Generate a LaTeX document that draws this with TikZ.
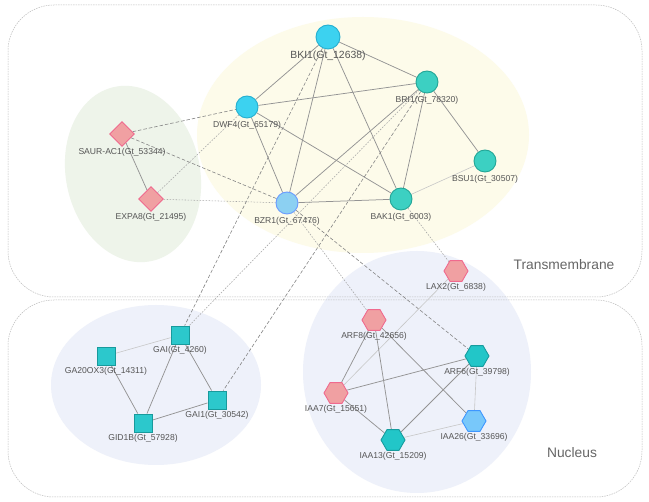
\documentclass[tikz,border=0pt]{standalone}
\usepackage{fontspec}
\setmainfont{Liberation Sans}
\usetikzlibrary{shapes.geometric}
\definecolor{cyanF}{HTML}{3CD2F0}
\definecolor{cyanD}{HTML}{25AFD0}
\definecolor{tealF}{HTML}{3CD0C2}
\definecolor{tealD}{HTML}{22A596}
\definecolor{bzrF}{HTML}{8CD0F2}
\definecolor{bzrD}{HTML}{6A9BFF}
\definecolor{pinkF}{HTML}{F0A0A2}
\definecolor{pinkD}{HTML}{F06A8E}
\definecolor{hexT}{HTML}{22C6C8}
\definecolor{hexTD}{HTML}{179C9E}
\definecolor{iaaF}{HTML}{78C8FA}
\definecolor{iaaD}{HTML}{3F97FF}
\definecolor{sqF}{HTML}{2CC8CC}
\definecolor{sqD}{HTML}{189A9C}
\definecolor{yellowBG}{HTML}{FDFBEA}
\definecolor{greenBG}{HTML}{EEF4EA}
\definecolor{lavBG}{HTML}{EEF1FA}
\definecolor{lblC}{HTML}{555555}
\definecolor{boxC}{HTML}{BDBDBD}
\pgfdeclarelayer{back}
\pgfdeclarelayer{edges}
\pgfsetlayers{back,edges,main}
\tikzset{
  lbl/.style={font=\fontsize{8.6}{9.5}\selectfont, text=lblC, inner sep=0.5pt},
  circ/.style={circle, minimum size=22pt, inner sep=0pt, line width=0.9pt, label={[lbl,label distance=2pt]below:#1}},
  cyannode/.style={circ=#1, fill=cyanF, draw=cyanD},
  tealnode/.style={circ=#1, fill=tealF, draw=tealD},
  dia/.style={diamond, minimum size=25pt, inner sep=0pt, fill=pinkF, draw=pinkD, line width=0.9pt, label={[lbl,label distance=0.5pt]below:#1}},
  hexa/.style={regular polygon, regular polygon sides=6, minimum size=24pt, inner sep=0pt, line width=0.9pt, label={[lbl,label distance=0.5pt]below:#1}},
  hexpink/.style={hexa=#1, fill=pinkF, draw=pinkD},
  hexteal/.style={hexa=#1, fill=hexT, draw=hexTD},
  hexblue/.style={hexa=#1, fill=iaaF, draw=iaaD},
  sq/.style={rectangle, minimum size=18pt, inner sep=0pt, fill=sqF, draw=sqD, line width=0.9pt, label={[lbl,label distance=1.5pt]below:#1}},
  solidE/.style={draw=black!42, line width=0.75pt},
  lightE/.style={draw=black!22, line width=0.6pt},
  dashE/.style={draw=black!48, line width=0.6pt, dash pattern=on 3.5pt off 2pt},
  dotE/.style={draw=black!35, line width=0.55pt, dash pattern=on 1.6pt off 1.4pt},
  regionbox/.style={draw=boxC, line width=0.5pt, dash pattern=on 1.5pt off 1pt, rounded corners=46pt},
  regiontext/.style={font=\fontsize{13.8}{15}\selectfont, text=black!60}
}
\begin{document}
\begin{tikzpicture}[x=1pt,y=-1pt]
\useasboundingbox (0,0) rectangle (649,502);
\begin{pgfonlayer}{back}
  \fill[white] (0,0) rectangle (649,502);
  \fill[yellowBG] (363,135) ellipse [x radius=166pt, y radius=118pt];
  \fill[greenBG, rotate around={12:(133,174)}] (133,174) ellipse [x radius=67pt, y radius=89pt];
  \fill[lavBG] (156,385) ellipse [x radius=105pt, y radius=80pt];
  \fill[lavBG] (417,372) ellipse [x radius=114pt, y radius=121pt];
  \draw[regionbox] (8,5) rectangle (642,297);
  \draw[regionbox] (8,300) rectangle (642,497);
\end{pgfonlayer}
\node[regiontext] (tm) at (564,265) {Transmembrane};
\node[regiontext] (nu) at (572,453) {Nucleus};
% transmembrane nodes
\node[circle, minimum size=24pt, inner sep=0pt, line width=0.9pt, fill=cyanF, draw=cyanD,
      label={[font=\fontsize{10.4}{12}\selectfont, text=lblC, inner sep=0.5pt, label distance=1pt]below:BKI1(Gt\_12638)}] (bki1) at (328,37) {};
\node[tealnode={BRI1(Gt\_78320)}] (bri1) at (427,82) {};
\node[cyannode={DWF4(Gt\_65179)}] (dwf4) at (247,107) {};
\node[tealnode={BSU1(Gt\_30507)}] (bsu1) at (485,161) {};
\node[tealnode={BAK1(Gt\_6003)}] (bak1) at (401,199) {};
\node[circ={BZR1(Gt\_67476)}, fill=bzrF, draw=bzrD] (bzr1) at (287,203) {};
\node[dia={SAUR-AC1(Gt\_53344)}] (saur) at (122,134) {};
\node[dia={EXPA8(Gt\_21495)}] (expa8) at (151,199) {};
\node[hexpink={LAX2(Gt\_6838)}] (lax2) at (456,271) {};
% nucleus nodes
\node[hexpink={ARF8(Gt\_42656)}] (arf8) at (374,320) {};
\node[hexteal={ARF6(Gt\_39798)}] (arf6) at (477,356) {};
\node[hexpink={IAA7(Gt\_15651)}] (iaa7) at (336,393) {};
\node[hexblue={IAA26(Gt\_33696)}] (iaa26) at (474,421) {};
\node[hexteal={IAA13(Gt\_15209)}] (iaa13) at (393,440) {};
\node[sq={GAI(Gt\_4260)}] (gai) at (180,335) {};
\node[sq={GA20OX3(Gt\_14311)}] (ga20) at (106,356) {};
\node[sq={GAI1(Gt\_30542)}] (gai1) at (217,400) {};
\node[sq={GID1B(Gt\_57928)}] (gid1b) at (143,423) {};
\begin{pgfonlayer}{edges}
  % solid
  \draw[solidE] (bki1) -- (bri1);
  \draw[solidE] (bki1) -- (dwf4);
  \draw[solidE] (bki1) -- (bzr1);
  \draw[solidE] (bki1) -- (bak1);
  \draw[solidE] (bri1) -- (dwf4);
  \draw[solidE] (bri1) -- (bzr1);
  \draw[solidE] (bri1) -- (bak1);
  \draw[solidE] (bri1) -- (bsu1);
  \draw[solidE] (dwf4) -- (bzr1);
  \draw[solidE] (dwf4) -- (bak1);
  \draw[solidE] (bzr1) -- (bak1);
  \draw[lightE] (bak1) -- (bsu1);
  \draw[solidE] (saur) -- (expa8);
  % cross links
  \draw[dashE] (saur) -- (dwf4);
  \draw[dashE] (saur) -- (bzr1);
  \draw[dotE] (expa8) -- (dwf4);
  \draw[dotE] (expa8) -- (bzr1);
  \draw[dashE] (bki1) -- (gai);
  \draw[dotE] (bri1) -- (gai);
  \draw[dashE] (bri1) -- (gai1);
  \draw[dotE] (bzr1) -- (arf8);
  \draw[dashE] (bzr1) -- (arf6);
  \draw[dotE] (bak1) -- (lax2);
  % GA module
  \draw[lightE] (gai) -- (ga20);
  \draw[solidE] (gai) -- (gid1b);
  \draw[solidE] (gai) -- (gai1);
  \draw[solidE] (ga20) -- (gid1b);
  \draw[solidE] (gid1b) -- (gai1);
  % auxin module
  \draw[lightE] (lax2) -- (iaa7);
  \draw[solidE] (arf8) -- (iaa7);
  \draw[solidE] (arf8) -- (iaa13);
  \draw[solidE] (arf8) -- (iaa26);
  \draw[solidE] (iaa7) -- (arf6);
  \draw[solidE] (iaa7) -- (iaa13);
  \draw[solidE] (arf6) -- (iaa13);
  \draw[lightE] (arf6) -- (iaa26);
  \draw[lightE] (iaa13) -- (iaa26);
\end{pgfonlayer}
\end{tikzpicture}
\end{document}
